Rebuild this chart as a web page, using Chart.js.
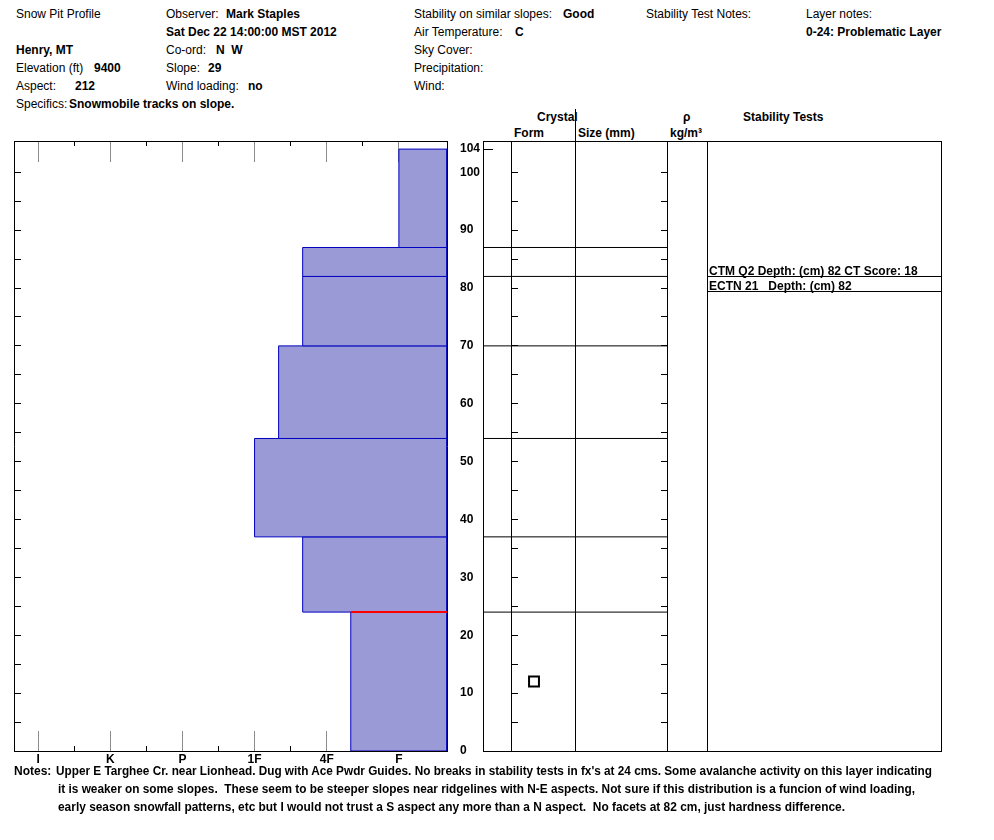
<!DOCTYPE html>
<html>
<head>
<meta charset="utf-8">
<script src="https://cdn.jsdelivr.net/npm/chart.js@4.4.0/dist/chart.umd.min.js"></script>
<style>
  body{margin:0;background:#fff;width:994px;height:840px;position:relative;overflow:hidden;
       font:12px "Liberation Sans",Arial,sans-serif;color:#000;}
  .t{position:absolute;white-space:pre;line-height:14px;}
  .b{font-weight:bold;}
  #left{position:absolute;left:0;top:120px;}
  #right{position:absolute;left:470px;top:120px;}
  .fit{transform-origin:0 50%;display:inline-block;}
</style>
</head>
<body>
<!-- header -->
<div class="t" style="left:16px;top:7px">Snow Pit Profile</div>
<div class="t" style="left:166px;top:7px">Observer: </div><div class="t b" style="left:226px;top:7px">Mark Staples</div>
<div class="t" style="left:414px;top:7px">Stability on similar slopes: </div><div class="t b" style="left:563px;top:7px">Good</div>
<div class="t" style="left:646px;top:7px">Stability Test Notes:</div>
<div class="t" style="left:806px;top:7px">Layer notes:</div>

<div class="t b" style="left:166px;top:25px">Sat Dec 22 14:00:00 MST 2012</div>
<div class="t" style="left:414px;top:25px">Air Temperature: </div><div class="t b" style="left:515px;top:25px">C</div>
<div class="t b" style="left:806px;top:25px">0-24: Problematic Layer</div>

<div class="t b" style="left:16px;top:43px">Henry, MT</div>
<div class="t" style="left:166px;top:43px">Co-ord: </div><div class="t b" style="left:216px;top:43px">N  W</div>
<div class="t" style="left:414px;top:43px">Sky Cover:</div>

<div class="t" style="left:16px;top:61px">Elevation (ft) </div><div class="t b" style="left:94px;top:61px">9400</div>
<div class="t" style="left:166px;top:61px">Slope: </div><div class="t b" style="left:208px;top:61px">29</div>
<div class="t" style="left:414px;top:61px">Precipitation:</div>

<div class="t" style="left:16px;top:79px">Aspect: </div><div class="t b" style="left:75px;top:79px">212</div>
<div class="t" style="left:166px;top:79px">Wind loading: </div><div class="t b" style="left:248px;top:79px">no</div>
<div class="t" style="left:414px;top:79px">Wind:</div>

<div class="t" style="left:16px;top:97px">Specifics:</div><div class="t b" style="left:69px;top:97px">Snowmobile tracks on slope.</div>

<!-- table headers -->
<div class="t b" style="left:537px;top:110px">Crystal</div>
<div class="t b" style="left:514px;top:126px">Form</div>
<div class="t b" style="left:578px;top:126px">Size (mm)</div>
<div class="t b" style="left:683px;top:110px">ρ</div>
<div class="t b" style="left:670px;top:126px">kg/m³</div>
<div class="t b" style="left:743px;top:110px">Stability Tests</div>
<div style="position:absolute;left:575px;top:109px;width:1px;height:32px;background:#000"></div>

<canvas id="left" width="483" height="660"></canvas>
<canvas id="right" width="524" height="660"></canvas>

<!-- notes -->
<div class="t b" style="left:14px;top:764px">Notes:</div>
<div class="t b" style="left:56px;top:764px"><span class="fit" data-w="876">Upper E Targhee Cr. near Lionhead. Dug with Ace Pwdr Guides. No breaks in stability tests in fx's at 24 cms. Some avalanche activity on this layer indicating</span></div>
<div class="t b" style="left:58px;top:782px"><span class="fit" data-w="857">it is weaker on some slopes.  These seem to be steeper slopes near ridgelines with N-E aspects. Not sure if this distribution is a funcion of wind loading,</span></div>
<div class="t b" style="left:58px;top:800px"><span class="fit" data-w="787">early season snowfall patterns, etc but I would not trust a S aspect any more than a N aspect.  No facets at 82 cm, just hardness difference.</span></div>

<script>
// hardness scale, soft end on the right
const hardnessLabels = ['I', 'K', 'P', '1F', '4F', 'F'];
const hardnessMinor = [0.5, 1.5, 2.5, 3.5, 4.5];

// layers (cm from ground)
const layerTop      = [104, 87, 82, 70, 54, 37, 24];
const layerBottom   = [87, 82, 70, 54, 37, 24, 0];
const layerHardness = ['F', '4F+', '4F+', '1F-', '1F', '4F+', '4F-'];
const problemLayerTop = 24;

// grain forms
const grainDepths = [12];
const grainForms  = ['FC'];

// stability tests
const testDepths = [82, 82];
const testLabels = ['CTM Q2 Depth: (cm) 82 CT Score: 18', 'ECTN 21   Depth: (cm) 82'];

// depth axis
const depthLabels = [0, 10, 20, 30, 40, 50, 60, 70, 80, 90, 100, 104];
const depthMinor  = [5, 10, 15, 20, 25, 30, 35, 40, 45, 50, 55, 60, 65, 70, 75, 80, 85, 90, 95, 100];

const XMIN = -1/3, XMAX = 17/3, YMAX = 105.4;
const COLS = [0, 28, 92, 184, 224, 458];   // table column edges (px units of right panel)
const FORM_X = 51;
const BLUE = '#0000c0', FILL = '#9a9ad6', GREY = '#8c8c8c';
const FONT = '"Liberation Sans", Arial, sans-serif';
const boldFont = {family: FONT, size: 12, weight: 'bold'};

Chart.defaults.font.family = FONT;
Chart.defaults.animation = false;

function hardVal(s){
  const base = hardnessLabels.indexOf(s.replace(/[+-]$/, ''));
  if (s.endsWith('+')) return base - 1/3;
  if (s.endsWith('-')) return base + 1/3;
  return base;
}

function tickAxis(axis, position, values, len, color, min, max, border){
  return {
    type: 'linear', axis, position, min, max,
    afterBuildTicks: s => { s.ticks = values.map(v => ({value: v})); },
    ticks: {display: false},
    grid: {drawOnChartArea: false, tickLength: len, color, tickColor: color},
    border: {display: !!border, color: '#000', width: 1}
  };
}

// ---- hardness profile ----
const layerSets = layerTop.map((top, i) => {
  const h = hardVal(layerHardness[i]), bot = layerBottom[i];
  return {
    data: [{x: h, y: bot}, {x: h, y: top}, {x: XMAX, y: top}, {x: XMAX, y: bot}, {x: h, y: bot}],
    showLine: true, fill: 'shape', backgroundColor: FILL, borderColor: BLUE,
    borderWidth: 1, pointRadius: 0, tension: 0
  };
});
const pIdx = layerTop.indexOf(problemLayerTop);
layerSets.push({
  data: [{x: hardVal(layerHardness[pIdx]), y: problemLayerTop}, {x: XMAX, y: problemLayerTop}],
  showLine: true, borderColor: '#ff0000', borderWidth: 2, pointRadius: 0, fill: false,
  order: -1
});

new Chart(document.getElementById('left'), {
  type: 'scatter',
  data: {datasets: layerSets},
  options: {
    responsive: false,
    layout: {padding: {top: 21, left: 14}},
    plugins: {legend: {display: false}, tooltip: {enabled: false}},
    scales: {
      x: {
        type: 'linear', position: 'bottom', min: XMIN, max: XMAX,
        afterBuildTicks: s => { s.ticks = hardnessLabels.map((_, i) => ({value: i})); },
        afterFit: s => { s.height = 29; },
        ticks: {callback: v => hardnessLabels[v], font: boldFont, color: '#000', padding: 21, autoSkip: false, maxRotation: 0},
        grid: {drawOnChartArea: false, tickLength: -20, color: GREY, tickColor: GREY},
        border: {display: true, color: '#000'}
      },
      xBotMin: tickAxis('x', {y: 0}, hardnessMinor, -5, '#000', XMIN, XMAX),
      xTopMaj: tickAxis('x', {y: YMAX}, hardnessLabels.map((_, i) => i), 20, GREY, XMIN, XMAX, true),
      xTopMin: tickAxis('x', {y: YMAX}, hardnessMinor, 5, '#000', XMIN, XMAX),
      y: {
        type: 'linear', position: 'right', min: 0, max: YMAX,
        afterBuildTicks: s => { s.ticks = depthLabels.map(v => ({value: v})); },
        afterFit: s => { s.width = 36; },
        ticks: {font: boldFont, color: '#000', padding: 7, autoSkip: false},
        grid: {drawOnChartArea: false, tickLength: 6, color: 'rgba(0,0,0,0)', tickColor: 'rgba(0,0,0,0)'},
        border: {display: true, color: '#000'}
      },
      yRightTicks: tickAxis('y', {x: XMAX}, depthMinor, 7, '#000', 0, YMAX),
      yLeft: tickAxis('y', {x: XMIN}, depthMinor, -7, '#000', 0, YMAX, true)
    }
  }
});

// ---- crystal / stability table ----
const testPlugin = {
  id: 'tests',
  afterDatasetsDraw(chart){
    const {ctx, scales: {x, y}} = chart;
    const x0 = x.getPixelForValue(COLS[4]), x1 = x.getPixelForValue(COLS[5]);
    const seen = {};
    ctx.save();
    ctx.font = 'bold 12px ' + FONT;
    ctx.fillStyle = '#000'; ctx.strokeStyle = '#000'; ctx.lineWidth = 1;
    testDepths.forEach((d, i) => {
      const k = seen[d] = (seen[d] || 0) + 1;
      const py = Math.round(y.getPixelForValue(d)) + (k - 1) * 15 + 0.5;
      ctx.beginPath(); ctx.moveTo(x0, py); ctx.lineTo(x1, py); ctx.stroke();
      ctx.textBaseline = 'alphabetic';
      ctx.fillText(testLabels[i], x0 + 2, py - 1.5);
    });
    ctx.restore();
  }
};

const tableSets = layerBottom.filter(d => d > 0).map(d => ({
  data: [{x: COLS[0], y: d}, {x: COLS[3], y: d}],
  showLine: true, borderColor: '#000', borderWidth: 1, pointRadius: 0, fill: false
}));
tableSets.push({
  data: grainDepths.map((d, i) => ({x: FORM_X, y: d, form: grainForms[i]})),
  pointStyle: 'rect', pointRadius: 7, borderColor: '#000', borderWidth: 2,
  backgroundColor: 'rgba(0,0,0,0)', showLine: false, order: -1
});

new Chart(document.getElementById('right'), {
  type: 'scatter',
  data: {datasets: tableSets},
  plugins: [testPlugin],
  options: {
    responsive: false,
    layout: {padding: {top: 21, left: 13, right: 53, bottom: 29}},
    plugins: {legend: {display: false}, tooltip: {enabled: false}},
    scales: {
      x: {
        type: 'linear', position: 'bottom', min: COLS[0], max: COLS[5],
        afterBuildTicks: s => { s.ticks = COLS.map(v => ({value: v})); },
        afterFit: s => { s.height = 0; },
        ticks: {display: false},
        grid: {drawOnChartArea: true, drawTicks: false, color: '#000'},
        border: {display: true, color: '#000'}
      },
      xTop: {type: 'linear', axis: 'x', position: {y: YMAX}, min: COLS[0], max: COLS[5],
             ticks: {display: false}, grid: {display: false}, border: {display: true, color: '#000'}},
      y: {
        type: 'linear', position: 'left', min: 0, max: YMAX,
        afterBuildTicks: s => { s.ticks = [{value: 104}]; },
        afterFit: s => { s.width = 0; },
        ticks: {display: false},
        grid: {drawOnChartArea: false, tickLength: -10, color: '#000'},
        border: {display: true, color: '#000'}
      },
      yForm: tickAxis('y', {x: COLS[1]}, depthMinor, -7, '#000', 0, YMAX),
      ySize: tickAxis('y', {x: COLS[3]}, depthMinor, 6, '#000', 0, YMAX)
    }
  }
});

// squeeze the notes lines to their widths
document.querySelectorAll('.fit').forEach(el => {
  const w = el.getBoundingClientRect().width;
  el.style.transform = 'scaleX(' + (Number(el.dataset.w) / w) + ')';
});
</script>
</body>
</html>
